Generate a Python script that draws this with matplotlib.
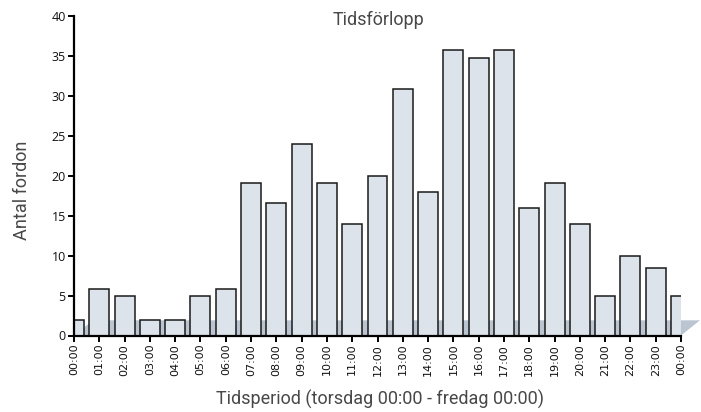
import matplotlib
matplotlib.use("Agg")
import matplotlib.pyplot as plt
from matplotlib.patches import Polygon

hours = ["00:00", "01:00", "02:00", "03:00", "04:00", "05:00", "06:00", "07:00",
         "08:00", "09:00", "10:00", "11:00", "12:00", "13:00", "14:00", "15:00",
         "16:00", "17:00", "18:00", "19:00", "20:00", "21:00", "22:00", "23:00", "00:00"]
counts = [1.9, 5.8, 5.0, 1.9, 1.9, 5.0, 5.8, 19.1, 16.6, 24.0, 19.1, 14.0, 20.0, 30.8,
          18.0, 35.8, 34.8, 35.8, 15.9, 19.1, 14.0, 5.0, 10.0, 8.4, 5.0]
y_ticks = [0, 5, 10, 15, 20, 25, 30, 35, 40]
floor_height = 1.9

fig = plt.figure(figsize=(7.01, 4.12), dpi=100)
ax = fig.add_axes([74/701, 1-335.5/412, (681-74)/701, (335.5-16)/412])

x = list(range(len(hours)))
floor = Polygon([(0, 0), (24, 0), (24.75, floor_height), (0.75, floor_height)],
                closed=True, facecolor="#bac5d1", edgecolor="none", zorder=1, clip_on=False)
ax.add_patch(floor)

ax.bar(x, counts, width=0.79, color="#dce3ea", edgecolor="#1a1a1a", linewidth=1.1, zorder=2)

ax.set_xlim(0, 24)
ax.set_ylim(0, 40)
ax.set_xticks(x)
ax.set_xticklabels(hours, rotation=90, fontsize=8, family="DejaVu Sans", color="#111")
ax.set_yticks(y_ticks)
ax.set_yticklabels([str(v) for v in y_ticks], fontsize=9, family="Open Sans", color="#111")

for s in ["top", "right"]:
    ax.spines[s].set_visible(False)
for s in ["left", "bottom"]:
    ax.spines[s].set_linewidth(1.6)
    ax.spines[s].set_color("black")
    ax.spines[s].set_zorder(5)
ax.tick_params(axis="both", length=4, width=1.4, color="black", pad=2)

txt = dict(fontsize=13, family="Roboto", weight="normal", color="#484848")
fig.text(378/701, 1-20/412, "Tidsförlopp", ha="center", va="center", **txt)
fig.text(22/701, 1-190/412, "Antal fordon", ha="center", va="center", rotation=90, **txt)
fig.text(380/701, 1-399/412, "Tidsperiod (torsdag 00:00 - fredag 00:00)", ha="center", va="center", **txt)

fig.savefig("out.png", dpi=100)
